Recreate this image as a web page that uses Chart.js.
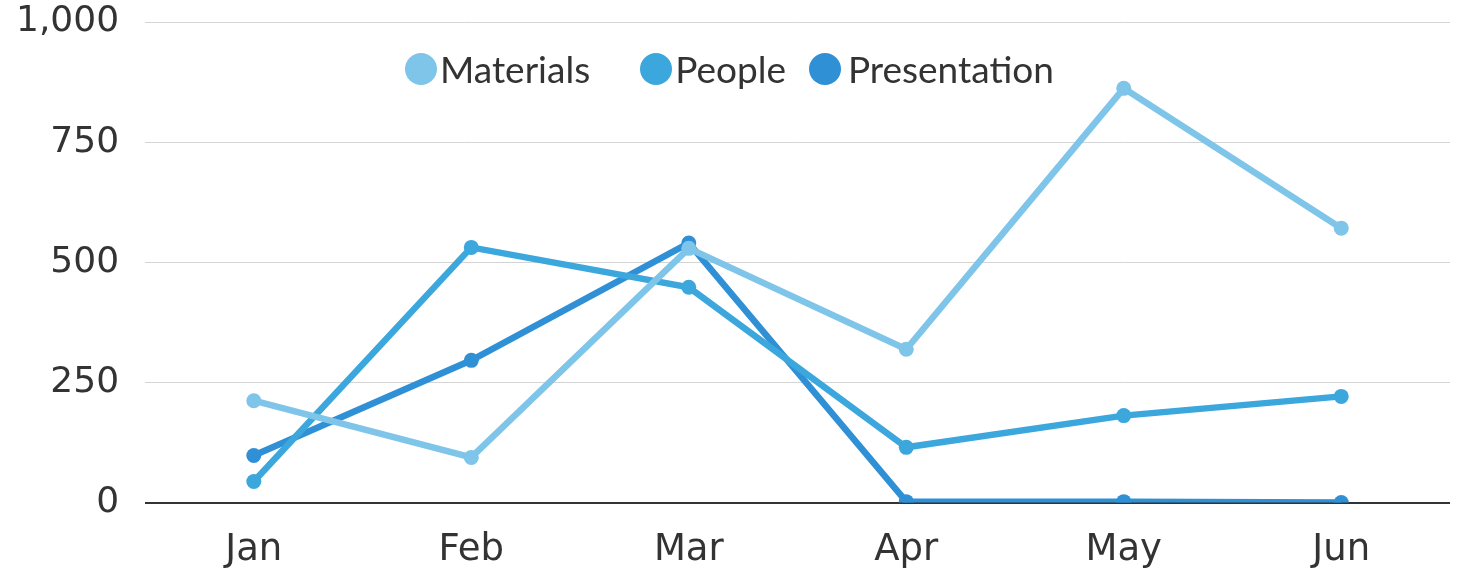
<!DOCTYPE html>
<html>
<head>
<meta charset="utf-8">
<script src="https://cdn.jsdelivr.net/npm/chart.js@4/dist/chart.umd.min.js"></script>
<style>
  html, body { margin: 0; padding: 0; background: #fff; }
  #wrap { position: relative; width: 1458px; height: 573px; }
  #legend {
    position: absolute; top: 46px; left: 405px;
    display: flex; align-items: center;
    font-family: Lato, sans-serif; font-size: 37px; color: #333;
  }
  #legend .item { display: flex; align-items: center; }
  #legend .item:nth-child(1) { margin-right: 50px; }
  #legend .item:nth-child(2) { margin-right: 23px; }
  #legend .item:nth-child(3) .dot { margin-right: 7px; }
  #legend .dot { width: 32px; height: 32px; border-radius: 50%; margin-right: 3px; }
</style>
</head>
<body>
<div id="wrap">
  <canvas id="chart" width="1458" height="573"></canvas>
  <div id="legend"></div>
</div>
<script>
const months = ['Jan', 'Feb', 'Mar', 'Apr', 'May', 'Jun'];
const seriesNames = ['Materials', 'People', 'Presentation'];
const materials = [212, 94, 529, 319, 862, 571];
const people = [44, 531, 448, 115, 181, 221];
const presentation = [98, 296, 540, 2, 2, 0];
const colors = ['#7ec5e9', '#3ca7dc', '#2f90d6'];

const values = [materials, people, presentation];

const datasets = seriesNames.map((name, i) => ({
  label: name,
  data: values[i],
  borderColor: colors[i],
  backgroundColor: colors[i],
  borderWidth: 6.5,
  pointRadius: 7.5,
  pointBorderWidth: 0,
  tension: 0,
  fill: false,
}));

const legend = document.getElementById('legend');
seriesNames.forEach((name, i) => {
  const item = document.createElement('div');
  item.className = 'item';
  item.innerHTML = `<span class="dot" style="background:${colors[i]}"></span><span>${name}</span>`;
  legend.appendChild(item);
});

new Chart(document.getElementById('chart'), {
  type: 'line',
  data: { labels: months, datasets },
  options: {
    responsive: false,
    animation: false,
    layout: { padding: { top: 22, right: 8, left: -10, bottom: -18 } },
    plugins: { legend: { display: false }, tooltip: { enabled: false } },
    scales: {
      x: {
        offset: true,
        grid: { display: false },
        border: { display: false },
        ticks: {
          color: '#333',
          padding: 18,
          font: { family: 'DejaVu Sans', size: 37 },
        },
      },
      y: {
        min: 0,
        max: 1000,
        border: { display: false },
        afterFit: (scale) => { scale.paddingTop = 0; },
        grid: {
          drawTicks: false,
          color: (ctx) => (ctx.tick && ctx.tick.value === 0 ? '#333' : '#d4d4d4'),
          lineWidth: (ctx) => (ctx.tick && ctx.tick.value === 0 ? 2 : 1),
        },
        ticks: {
          stepSize: 250,
          color: '#333',
          padding: 26,
          font: { family: 'DejaVu Sans', size: 36 },
        },
      },
    },
  },
});
</script>
</body>
</html>
